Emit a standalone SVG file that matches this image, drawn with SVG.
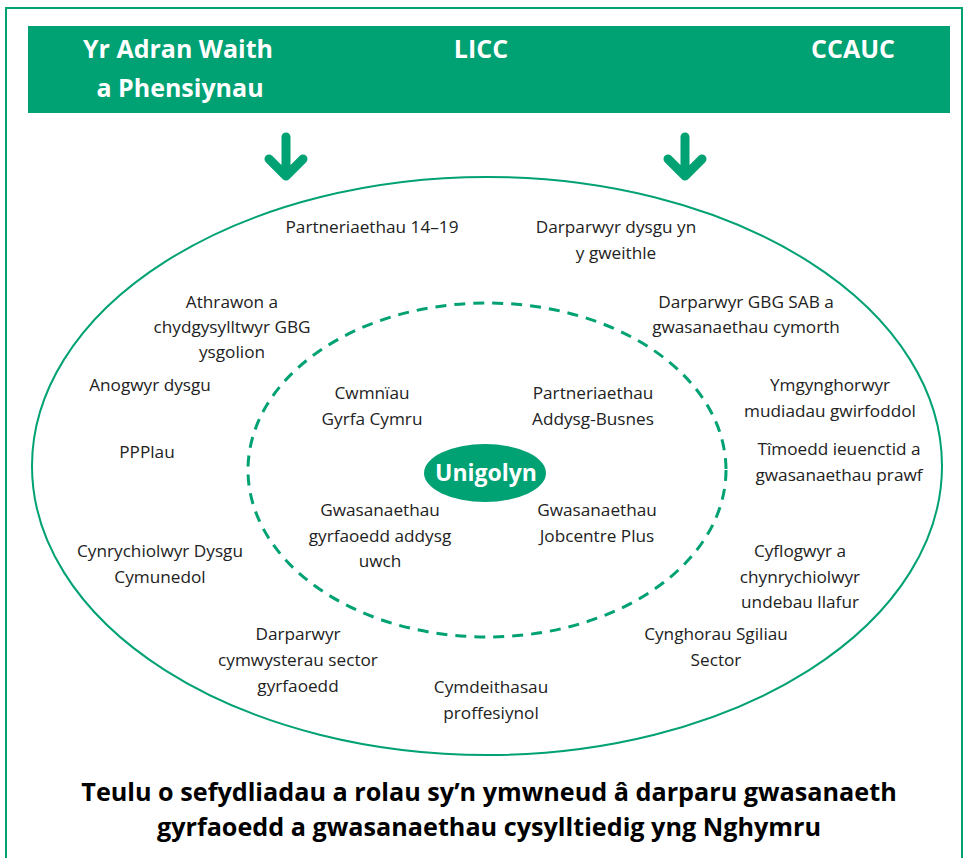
<svg xmlns="http://www.w3.org/2000/svg" width="968" height="858" viewBox="0 0 968 858">
<style>
.lbl{font-family:"Open Sans","Liberation Sans",sans-serif;font-size:17.2px;fill:#222;text-anchor:middle}
.hdr{font-family:"Open Sans","Liberation Sans",sans-serif;font-size:25px;font-weight:bold;fill:#fff;text-anchor:middle}
.cap{font-family:"Open Sans","Liberation Sans",sans-serif;font-size:25.2px;font-weight:bold;fill:#000;text-anchor:middle}
.arrow{stroke:#00a173;stroke-width:9;stroke-linecap:round;stroke-linejoin:round;fill:none}
</style>
<rect x="0" y="0" width="968" height="858" fill="#fff"/>
<rect x="6" y="8" width="956" height="870" fill="none" stroke="#00a173" stroke-width="2"/>
<g id="header">
<rect x="28" y="26" width="922" height="87" fill="#00a173"/>
<text class="hdr" x="178" y="58">Yr Adran Waith</text>
<text class="hdr" x="180" y="97">a Phensiynau</text>
<text class="hdr" x="481" y="58">LICC</text>
<text class="hdr" x="853" y="58">CCAUC</text>
</g>
<g id="connectors">
<path class="arrow" d="M286,137 V175 M269,159 L286,176 L303,159"/>
<path class="arrow" d="M685,137 V175 M668,159 L685,176 L702,159"/>
</g>
<g id="outer">
<ellipse cx="487" cy="466" rx="455" ry="289" fill="none" stroke="#00a173" stroke-width="2"/>
</g>
<g id="inner">
<ellipse cx="487" cy="470" rx="239" ry="167" fill="none" stroke="#00a173" stroke-width="3" stroke-dasharray="11,8"/>
</g>
<g id="unigolyn">
<ellipse cx="485" cy="473" rx="61" ry="29" fill="#00a173"/>
<text x="486" y="481" font-family="Open Sans, Liberation Sans, sans-serif" font-size="23" font-weight="bold" fill="#fff" text-anchor="middle">Unigolyn</text>
</g>
<g id="n1"><text class="lbl" x="372" y="233">Partneriaethau 14–19</text></g>
<g id="n2"><text class="lbl" x="616" y="233">Darparwyr dysgu yn</text><text class="lbl" x="616" y="259">y gweithle</text></g>
<g id="n3"><text class="lbl" x="232" y="308">Athrawon a</text><text class="lbl" x="232" y="333">chydgysylltwyr GBG</text><text class="lbl" x="232" y="358">ysgolion</text></g>
<g id="n4"><text class="lbl" x="746" y="308">Darparwyr GBG SAB a</text><text class="lbl" x="746" y="333">gwasanaethau cymorth</text></g>
<g id="n5"><text class="lbl" x="150" y="391">Anogwyr dysgu</text></g>
<g id="n6"><text class="lbl" x="830" y="391">Ymgynghorwyr</text><text class="lbl" x="830" y="417">mudiadau gwirfoddol</text></g>
<g id="n7"><text class="lbl" x="372" y="399">Cwmnïau</text><text class="lbl" x="372" y="425">Gyrfa Cymru</text></g>
<g id="n8"><text class="lbl" x="593" y="399">Partneriaethau</text><text class="lbl" x="593" y="425">Addysg-Busnes</text></g>
<g id="n9"><text class="lbl" x="147" y="458">PPPlau</text></g>
<g id="n10"><text class="lbl" x="839" y="455">Tîmoedd ieuenctid a</text><text class="lbl" x="839" y="481">gwasanaethau prawf</text></g>
<g id="n11"><text class="lbl" x="380" y="516">Gwasanaethau</text><text class="lbl" x="380" y="542">gyrfaoedd addysg</text><text class="lbl" x="380" y="567">uwch</text></g>
<g id="n12"><text class="lbl" x="597" y="516">Gwasanaethau</text><text class="lbl" x="597" y="542">Jobcentre Plus</text></g>
<g id="n13"><text class="lbl" x="160" y="557">Cynrychiolwyr Dysgu</text><text class="lbl" x="160" y="583">Cymunedol</text></g>
<g id="n14"><text class="lbl" x="800" y="557">Cyflogwyr a</text><text class="lbl" x="800" y="583">chynrychiolwyr</text><text class="lbl" x="800" y="608">undebau llafur</text></g>
<g id="n15"><text class="lbl" x="298" y="640">Darparwyr</text><text class="lbl" x="298" y="666">cymwysterau sector</text><text class="lbl" x="298" y="692">gyrfaoedd</text></g>
<g id="n16"><text class="lbl" x="716" y="640">Cynghorau Sgiliau</text><text class="lbl" x="716" y="666">Sector</text></g>
<g id="n17"><text class="lbl" x="491" y="693">Cymdeithasau</text><text class="lbl" x="491" y="719">proffesiynol</text></g>
<g id="caption">
<text class="cap" x="489" y="801">Teulu o sefydliadau a rolau sy’n ymwneud â darparu gwasanaeth</text>
<text class="cap" x="489" y="836">gyrfaoedd a gwasanaethau cysylltiedig yng Nghymru</text>
</g>
</svg>
